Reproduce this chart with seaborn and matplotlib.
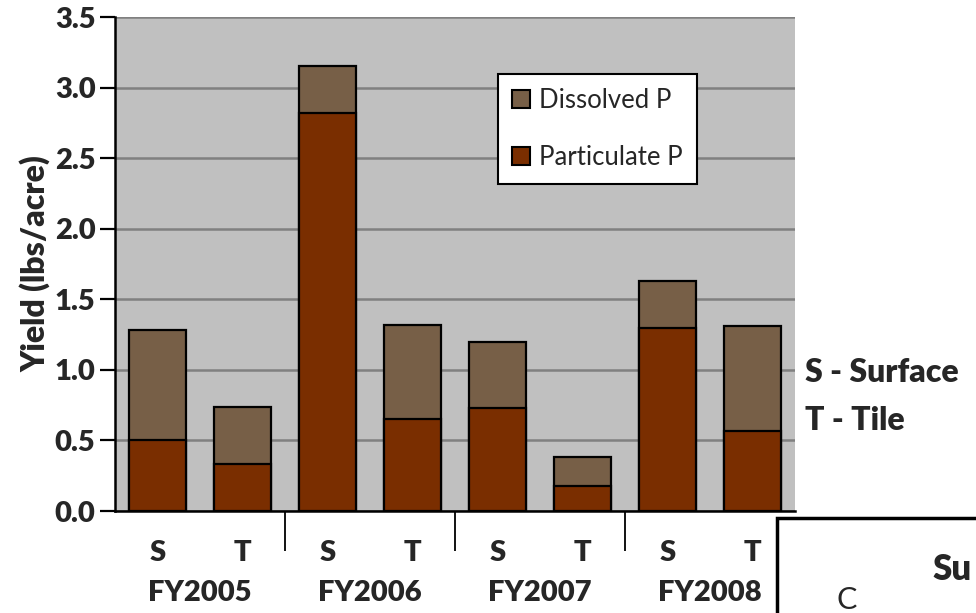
import pandas as pd
import seaborn as sns
import matplotlib.pyplot as plt
from matplotlib.patches import Rectangle, Patch
import matplotlib.transforms as mtransforms

# ---------------- datos ----------------
bars = ['S05', 'T05', 'S06', 'T06', 'S07', 'T07', 'S08', 'T08']
site = ['S', 'T', 'S', 'T', 'S', 'T', 'S', 'T']
years = ['FY2005', 'FY2006', 'FY2007', 'FY2008']
particulate = [0.50, 0.33, 2.82, 0.65, 0.73, 0.18, 1.30, 0.57]
dissolved = [0.78, 0.41, 0.33, 0.67, 0.47, 0.20, 0.33, 0.74]

total = [p + d for p, d in zip(particulate, dissolved)]
data = pd.DataFrame({'bar': bars, 'particulate': particulate, 'total': total})

c_part = '#7A2E00'
c_diss = '#775F47'

sns.set_style('white')
plt.rcParams['font.family'] = ['Lato', 'DejaVu Sans']

fig = plt.figure(figsize=(9.76, 6.13), dpi=100)
ax = fig.add_axes([115 / 976, 1 - 511 / 613, 680 / 976, 494 / 613])
ax.set_facecolor('#C0C0C0')

sns.barplot(data=data, x='bar', y='total', color=c_diss, saturation=1,
            width=0.66, edgecolor='black', linewidth=1.6, ax=ax, zorder=3)
sns.barplot(data=data, x='bar', y='particulate', color=c_part, saturation=1,
            width=0.66, edgecolor='black', linewidth=1.6, ax=ax, zorder=4)

ax.set_xlim(-0.5, 7.5)
ax.set_ylim(0, 3.5)
yt = [0, 0.5, 1, 1.5, 2, 2.5, 3, 3.5]
ax.set_yticks(yt)
ax.set_yticklabels([f'{v:.1f}' for v in yt], fontsize=21, fontweight='heavy')
ax.yaxis.grid(True, color='#808080', linewidth=1.8, zorder=0)
ax.set_axisbelow(True)

ax.set_xticks(range(8))
ax.set_xticklabels(site, fontsize=21, fontweight='heavy')
ax.set_xticks([1.5, 3.5, 5.5], minor=True)
ax.tick_params(axis='x', which='major', length=0, pad=21)
ax.tick_params(axis='x', which='minor', length=29, width=1.3, color='black', bottom=True)
ax.tick_params(axis='y', length=11, width=1.6, color='black', left=True, pad=3)

for s in ['top', 'right']:
    ax.spines[s].set_visible(False)
for s in ['left', 'bottom']:
    ax.spines[s].set_color('black')
    ax.spines[s].set_linewidth(1.8)

ax.set_xlabel('')
ax.set_ylabel('Yield (lbs/acre)', fontsize=23, fontweight='heavy', labelpad=3)

trans = mtransforms.blended_transform_factory(ax.transData, fig.transFigure)
for i, yr in enumerate(years):
    ax.text(2 * i + 0.5, 1 - 593 / 613, yr, transform=trans, ha='center', va='center',
            fontsize=21, fontweight='heavy')

handles = [Patch(facecolor=c_diss, edgecolor='black', linewidth=1.5, label='Dissolved P'),
           Patch(facecolor=c_part, edgecolor='black', linewidth=1.5, label='Particulate P')]
leg = ax.legend(handles=handles, loc='upper left', bbox_to_anchor=(383 / 680, 1 - 57 / 494),
                fontsize=18.5, frameon=True, fancybox=False, framealpha=1,
                edgecolor='black', handlelength=0.7, handleheight=0.7,
                handletextpad=0.35, labelspacing=1.25, borderpad=0.55,
                borderaxespad=0)
leg.get_frame().set_linewidth(1.5)

fig.text(805 / 976, 1 - 372 / 613, 'S - Surface', fontsize=23, fontweight='heavy', va='center')
fig.text(805 / 976, 1 - 420 / 613, 'T - Tile', fontsize=23, fontweight='heavy', va='center')

# caja cortada abajo a la derecha
fig.patches.append(Rectangle((777 / 976, -0.1), 0.3, 0.1 + (613 - 518) / 613,
                             transform=fig.transFigure, facecolor='white',
                             edgecolor='black', linewidth=2.5))
fig.text(932 / 976, 1 - 569 / 613, 'Su', fontsize=25, fontweight='heavy', va='center')
fig.text(836 / 976, 1 - 609 / 613, 'C', fontsize=22, va='baseline')

fig.savefig('out.png', dpi=100)
